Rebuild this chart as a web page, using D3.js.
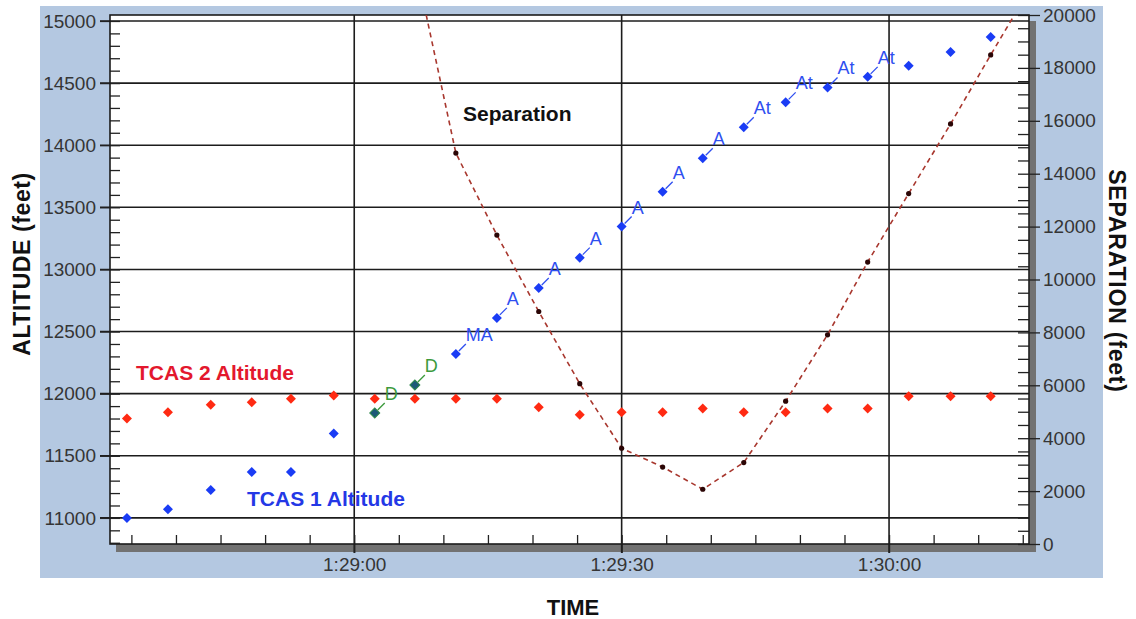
<!DOCTYPE html>
<html>
<head>
<meta charset="utf-8">
<script src="https://cdn.jsdelivr.net/npm/d3@7"></script>
<style>
  body { margin: 0; background: #ffffff; }
  svg { display: block; }
</style>
</head>
<body>
<svg id="chart" width="1136" height="619"></svg>
<script>
// ---- Data ----------------------------------------------------------------
// Sample times of the two TCAS altitude reports (H:MM:SS.s)
const sampleTimes = [
  "1:28:34.5", "1:28:39.1", "1:28:43.9", "1:28:48.5", "1:28:52.9", "1:28:57.7",
  "1:29:02.3", "1:29:06.8", "1:29:11.4", "1:29:16.0", "1:29:20.7", "1:29:25.3",
  "1:29:30.0", "1:29:34.6", "1:29:39.1", "1:29:43.7", "1:29:48.4", "1:29:53.1",
  "1:29:57.6", "1:30:02.2", "1:30:06.9", "1:30:11.4"
];
// TCAS 1 altitude (feet)
const tcas1Altitude = [
  11000, 11070, 11225, 11370, 11370, 11680,
  11845, 12070, 12320, 12610, 12850, 13095,
  13345, 13625, 13895, 14145, 14345, 14465,
  14550, 14640, 14750, 14870
];
// TCAS 1 advisory annotations
const tcas1Flags = [
  "", "", "", "", "", "",
  "D", "D", "MA", "A", "A", "A",
  "A", "A", "A", "At", "At", "At",
  "At", "", "", ""
];
// TCAS 2 altitude (feet)
const tcas2Altitude = [
  11800, 11850, 11910, 11930, 11960, 11985,
  11960, 11960, 11960, 11960, 11890, 11830,
  11850, 11850, 11880, 11850, 11850, 11880,
  11880, 11980, 11980, 11980
];
// Separation between the aircraft (feet)
const separationTimes = [
  "1:29:06.8", "1:29:11.4", "1:29:16.0", "1:29:20.7", "1:29:25.3", "1:29:30.0",
  "1:29:34.6", "1:29:39.1", "1:29:43.7", "1:29:48.4", "1:29:53.1", "1:29:57.6",
  "1:30:02.2", "1:30:06.9", "1:30:11.4", "1:30:16.0"
];
const separationFeet = [
  22000, 14780, 11680, 8790, 6060, 3620,
  2910, 2070, 3080, 5400, 7910, 10660,
  13250, 15880, 18490, 21100
];
// Axis ticks
const altitudeTicks = [11000, 11500, 12000, 12500, 13000, 13500, 14000, 14500, 15000];
const separationTicks = [0, 2000, 4000, 6000, 8000, 10000, 12000, 14000, 16000, 18000, 20000];
const timeTicks = ["1:29:00", "1:29:30", "1:30:00"];
const timeDomain = ["1:28:32.6", "1:30:15.7"];

// ---- Helpers -------------------------------------------------------------
function clock(s) {
  const [h, m, sec] = s.split(":").map(Number);
  return new Date(Date.UTC(1970, 0, 1, h, m, 0) + sec * 1000);
}

const svg = d3.select("#chart");
const W = 1136, H = 619;
const plot = { left: 110, right: 1029, top: 15, bottom: 544 };

const x = d3.scaleUtc().domain(timeDomain.map(clock)).range([plot.left, plot.right]);
const yAlt = d3.scaleLinear().domain([10790, 15048]).range([plot.bottom, plot.top]);
const ySep = d3.scaleLinear().domain([0, 20000]).range([plot.bottom, plot.top]);

const tickFont = "'Liberation Sans', Arial, sans-serif";
const tickColor = "#353535";

// ---- Panel background ----------------------------------------------------
svg.append("rect").attr("width", W).attr("height", H).attr("fill", "#ffffff");
svg.append("rect")
  .attr("x", 40).attr("y", 6).attr("width", 1063).attr("height", 572)
  .attr("fill", "#b4c8e1");

// drop shadow behind plotting area
svg.append("rect")
  .attr("x", plot.left + 6).attr("y", plot.top + 6)
  .attr("width", plot.right - plot.left + 1).attr("height", plot.bottom - plot.top + 2)
  .attr("fill", "#727272");

svg.append("rect")
  .attr("x", plot.left).attr("y", plot.top)
  .attr("width", plot.right - plot.left).attr("height", plot.bottom - plot.top)
  .attr("fill", "#ffffff");

// ---- Grid ----------------------------------------------------------------
const grid = svg.append("g").attr("stroke", "#1c1c1c").attr("stroke-width", 1.6);
grid.selectAll("line.h").data(altitudeTicks).join("line")
  .attr("x1", plot.left - 10).attr("x2", plot.right)
  .attr("y1", d => yAlt(d)).attr("y2", d => yAlt(d));
grid.selectAll("line.v").data(timeTicks.map(clock)).join("line")
  .attr("x1", d => x(d)).attr("x2", d => x(d))
  .attr("y1", plot.top).attr("y2", plot.bottom + 9);

// ---- Axes ----------------------------------------------------------------
function styleAxis(g) {
  g.select(".domain").remove();
  g.selectAll(".tick line").attr("stroke", "#222").attr("stroke-width", 1.3);
  g.selectAll(".tick text")
    .attr("fill", tickColor)
    .style("font-family", tickFont)
    .style("font-size", "19px");
}

// left: altitude labels + inner minor ticks
svg.append("g").attr("transform", `translate(${plot.left},0)`)
  .call(d3.axisLeft(yAlt).tickValues(altitudeTicks).tickSize(10).tickPadding(4).tickFormat(d3.format("d")))
  .call(styleAxis);
svg.append("g").attr("transform", `translate(${plot.left},0)`)
  .call(d3.axisLeft(yAlt).tickValues(d3.range(10800, 15001, 100)).tickSize(-10).tickFormat(""))
  .call(styleAxis);

// right: separation labels + inner minor ticks
svg.append("g").attr("transform", `translate(${plot.right},0)`)
  .call(d3.axisRight(ySep).tickValues(separationTicks).tickSize(11).tickPadding(3).tickFormat(d3.format("d")))
  .call(styleAxis);
svg.append("g").attr("transform", `translate(${plot.right},0)`)
  .call(d3.axisRight(ySep).tickValues(d3.range(0, 20001, 500)).tickSize(-11).tickFormat(""))
  .call(styleAxis);

// bottom: time labels + inner minor ticks every 5 s
const fmtTime = d3.utcFormat("%-H:%M:%S");
svg.append("g").attr("transform", `translate(0,${plot.bottom})`)
  .call(d3.axisBottom(x).tickValues(timeTicks.map(clock)).tickSize(9).tickPadding(5).tickFormat(fmtTime))
  .call(styleAxis);
svg.append("g").attr("transform", `translate(0,${plot.bottom})`)
  .call(d3.axisBottom(x).ticks(d3.utcSecond.every(5)).tickSize(-9).tickFormat(""))
  .call(styleAxis);

// frame
svg.append("rect")
  .attr("x", plot.left).attr("y", plot.top)
  .attr("width", plot.right - plot.left).attr("height", plot.bottom - plot.top)
  .attr("fill", "none").attr("stroke", "#1c1c1c").attr("stroke-width", 1.6);

// ---- Separation series ---------------------------------------------------
svg.append("clipPath").attr("id", "plot-clip")
  .append("rect")
  .attr("x", plot.left).attr("y", plot.top)
  .attr("width", plot.right - plot.left).attr("height", plot.bottom - plot.top);

const sepData = separationTimes.map((t, i) => ({ t: clock(t), v: separationFeet[i] }));
const sepLayer = svg.append("g").attr("clip-path", "url(#plot-clip)");
sepLayer.append("path")
  .datum(sepData)
  .attr("fill", "none")
  .attr("stroke", "#a8372e")
  .attr("stroke-width", 1.6)
  .attr("stroke-dasharray", "5,4")
  .attr("d", d3.line().x(d => x(d.t)).y(d => ySep(d.v)));
sepLayer.selectAll("circle").data(sepData).join("circle")
  .attr("cx", d => x(d.t)).attr("cy", d => ySep(d.v))
  .attr("r", 2.6).attr("fill", "#2b0606");

// ---- Altitude series -----------------------------------------------------
const diamond = d3.symbol(d3.symbolSquare, 50);

const tcas2 = sampleTimes.map((t, i) => ({ t: clock(t), v: tcas2Altitude[i] }));
svg.append("g").selectAll("path").data(tcas2).join("path")
  .attr("d", diamond)
  .attr("transform", d => `translate(${x(d.t)},${yAlt(d.v)}) rotate(45)`)
  .attr("fill", "#ff2a12");

const tcas1 = sampleTimes.map((t, i) => ({ t: clock(t), v: tcas1Altitude[i], flag: tcas1Flags[i] }));
const flagColor = f => (f === "D" ? "#3c9a3c" : "#2f4ff0");

const t1 = svg.append("g");
t1.selectAll("line").data(tcas1.filter(d => d.flag)).join("line")
  .attr("x1", d => x(d.t) + 3).attr("y1", d => yAlt(d.v) - 3)
  .attr("x2", d => x(d.t) + 10).attr("y2", d => yAlt(d.v) - 10)
  .attr("stroke", d => flagColor(d.flag)).attr("stroke-width", 1.3);
t1.selectAll("path").data(tcas1).join("path")
  .attr("d", diamond)
  .attr("transform", d => `translate(${x(d.t)},${yAlt(d.v)}) rotate(45)`)
  .attr("fill", d => (d.flag === "D" ? "#1d5a78" : "#1a3cf5"))
  .attr("stroke", d => (d.flag === "D" ? "#2f8a4a" : "none"))
  .attr("stroke-width", 1);
t1.selectAll("text").data(tcas1.filter(d => d.flag)).join("text")
  .attr("x", d => x(d.t) + 10).attr("y", d => yAlt(d.v) - 13)
  .attr("fill", d => flagColor(d.flag))
  .style("font-family", tickFont).style("font-size", "18px")
  .text(d => d.flag);

// ---- Series labels -------------------------------------------------------
const boldFont = "'Liberation Sans', Arial, Helvetica, sans-serif";
function label(txt, px, py, color) {
  svg.append("text").attr("x", px).attr("y", py)
    .attr("fill", color)
    .style("font-family", boldFont).style("font-weight", "bold").style("font-size", "21px")
    .text(txt);
}
label("Separation", 463, 121, "#111111");
label("TCAS 2 Altitude", 136, 380, "#e3182d");
label("TCAS 1 Altitude", 247, 506, "#2438e6");

// ---- Axis titles ---------------------------------------------------------
svg.append("text")
  .attr("transform", "translate(30,264) rotate(-90)")
  .attr("text-anchor", "middle")
  .attr("fill", "#111")
  .style("font-family", boldFont).style("font-weight", "bold").style("font-size", "23px")
  .style("letter-spacing", "0.6px")
  .text("ALTITUDE (feet)");

svg.append("text")
  .attr("transform", "translate(1109,281) rotate(90)")
  .attr("text-anchor", "middle")
  .attr("fill", "#111")
  .style("font-family", boldFont).style("font-weight", "bold").style("font-size", "23px")
  .style("letter-spacing", "0.8px")
  .text("SEPARATION (feet)");

svg.append("text")
  .attr("x", 573).attr("y", 615)
  .attr("text-anchor", "middle")
  .attr("fill", "#111")
  .style("font-family", boldFont).style("font-weight", "bold").style("font-size", "22px")
  .text("TIME");
</script>
</body>
</html>
